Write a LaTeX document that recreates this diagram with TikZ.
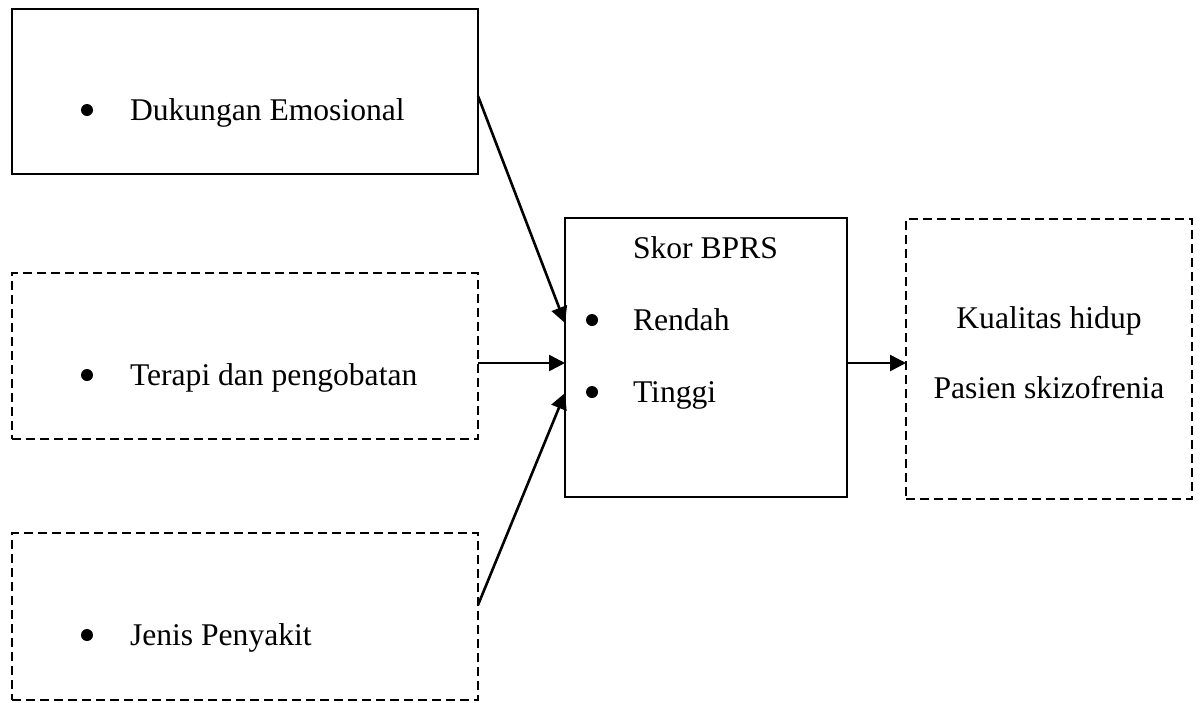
\documentclass[tikz,border=0pt]{standalone}
\usepackage{fontspec}
\setmainfont{Liberation Serif}
\usetikzlibrary{arrows.meta, calc}

\begin{document}
\begin{tikzpicture}[x=0.5pt, y=-0.5pt,
  every node/.style={inner sep=0pt, outer sep=0pt},
  box/.style={draw, line width=1pt},
  dbox/.style={draw, line width=0.9pt, dash pattern=on 4.5pt off 2.5pt},
  txt/.style={anchor=base west, font=\fontsize{15.8}{19}\selectfont},
  ctxt/.style={anchor=base, font=\fontsize{15.8}{19}\selectfont},
  dot/.style={circle, fill, minimum size=6pt},
  arr/.style={-{Triangle[length=8pt, width=8pt]}, line width=1.3pt}]
\useasboundingbox (0,0) rectangle (1202,702);
% kotak faktor
\node[box,  minimum width=233pt, minimum height=82.5pt] (dukungan) at (245,91.5) {};
\node[dbox, minimum width=233pt, minimum height=83pt]   (terapi)   at (245,356) {};
\node[dbox, minimum width=233pt, minimum height=83.5pt] (jenis)    at (245,616.5) {};
\node[box,  minimum width=141pt, minimum height=139.5pt] (bprs)    at (706,357.5) {};
\node[dbox, minimum width=143pt, minimum height=140pt]  (kualitas) at (1049,359) {};
% teks
\node[dot] (d1) at (87,110) {};
\node[txt] (t1) at (130,120) {Dukungan Emosional};
\node[dot] (d2) at (87,375) {};
\node[txt] (t2) at (130,385) {Terapi dan pengobatan};
\node[dot] (d3) at (87,635) {};
\node[txt] (t3) at (130,645) {Jenis Penyakit};
\node[txt] (skor) at (633,258) {Skor BPRS};
\node[dot] (d4) at (592,320) {};
\node[txt] (rendah) at (633,330) {Rendah};
\node[dot] (d5) at (592,392) {};
\node[txt] (tinggi) at (633,402) {Tinggi};
\node[ctxt] (k1) at (1049,328) {Kualitas hidup};
\node[ctxt] (k2) at (1049,398) {Pasien skizofrenia};
% panah
\coordinate (mid) at ([yshift=-2.75pt]bprs.west);
\draw[arr] ([yshift=-2.25pt]dukungan.east) -- ([yshift=17.25pt]bprs.west);
\draw[arr] (mid -| terapi.east) -- (mid);
\draw[arr] ([yshift=5.75pt]jenis.east) -- ([yshift=-17.75pt]bprs.west);
\draw[arr] (mid -| bprs.east) -- (mid -| kualitas.west);
\end{tikzpicture}
\end{document}
